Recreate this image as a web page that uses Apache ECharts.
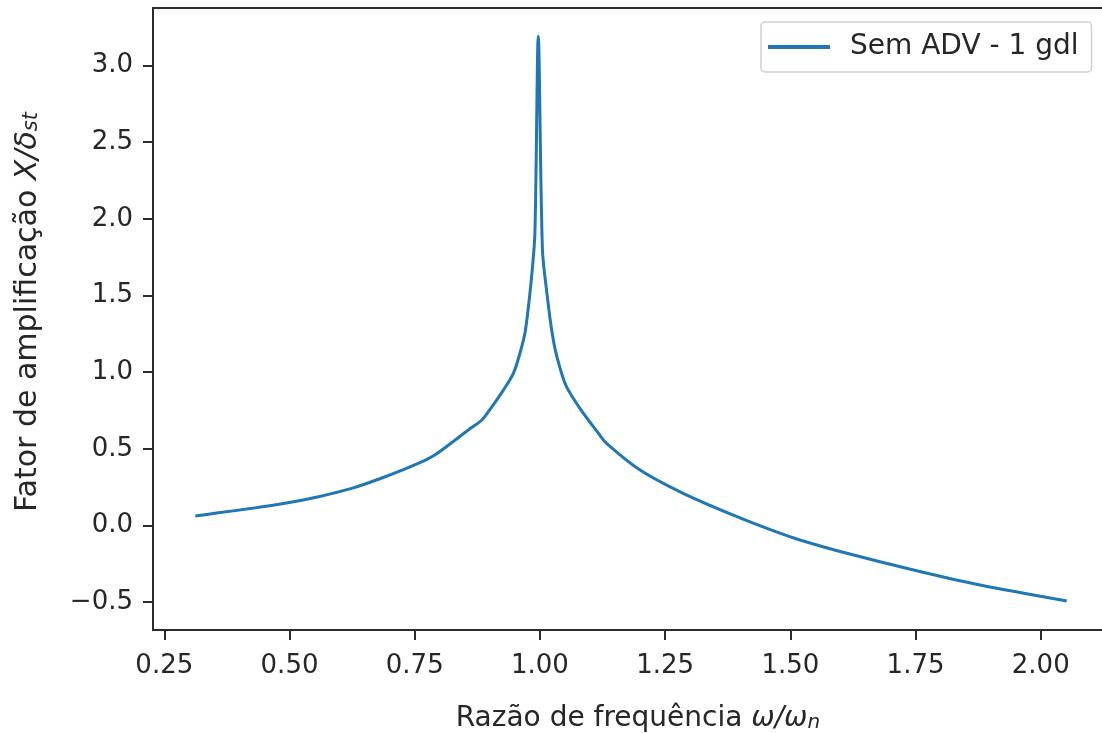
<!DOCTYPE html>
<html>
<head>
<meta charset="utf-8">
<script src="https://cdn.jsdelivr.net/npm/echarts@6/dist/echarts.min.js"></script>
<style>
html,body{margin:0;padding:0;background:#fff;overflow:hidden;}
#c{width:1102px;height:733px;}
</style>
</head>
<body>
<div id="c"></div>
<script>
// Frequency ratio (x) and amplification factor (y)
const freqRatio = [0.312, 0.358, 0.425, 0.491, 0.558, 0.624, 0.691, 0.757, 0.790, 0.857, 0.884, 0.904, 0.927, 0.947, 0.960, 0.970, 0.977, 0.984, 0.990, 0.9967,
  1.005, 1.014, 1.024, 1.034, 1.053, 1.087, 1.117, 1.133, 1.200, 1.286, 1.386, 1.479, 1.519, 1.613, 1.746, 1.879, 2.052];
const ampFactor = [0.062, 0.083, 0.112, 0.145, 0.188, 0.242, 0.318, 0.405, 0.460, 0.623, 0.688, 0.774, 0.883, 0.992, 1.122, 1.253, 1.426, 1.644, 1.907, 3.19,
  1.80, 1.514, 1.264, 1.10, 0.905, 0.731, 0.601, 0.536, 0.362, 0.210, 0.068, -0.050, -0.094, -0.181, -0.290, -0.388, -0.492];
const xTicks = [0.25, 0.50, 0.75, 1.00, 1.25, 1.50, 1.75, 2.00];
const yTicks = [-0.5, 0.0, 0.5, 1.0, 1.5, 2.0, 2.5, 3.0];
const seriesName = 'Sem ADV - 1 gdl';

const FONT = 'DejaVu Sans';
const FS = 26;
const TXT = '#262626';
const SPINE = '#2b2b2b';
const XMIN = 0.2274, XMAX = 2.1443;

const chart = echarts.init(document.getElementById('c'), null, {renderer: 'canvas'});
const data = freqRatio.map((x, i) => [x, ampFactor[i]]);
const fmtMinus = v => (v < 0 ? '\u2212' : '') + Math.abs(v).toFixed(1);

const makeRich = (fs, sfs) => ({
  a: {fontFamily: FONT, fontSize: fs, color: TXT},
  i: {fontFamily: FONT, fontSize: fs, fontStyle: 'italic', color: TXT},
  s: {fontFamily: FONT, fontSize: sfs, fontStyle: 'italic', color: TXT, padding: [0, 0, -7, 0]}
});

chart.setOption({
  animation: false,
  backgroundColor: '#fff',
  grid: {left: 153, top: 8, width: 960, height: 622, show: false, outerBoundsMode: 'none'},
  legend: {
    left: 761, top: 22,
    data: [seriesName],
    icon: 'rect', itemWidth: 62, itemHeight: 4,
    padding: [11, 13, 11, 7],
    backgroundColor: 'rgba(255,255,255,0.85)',
    borderColor: '#d0d0d0', borderWidth: 1.5, borderRadius: 4,
    textStyle: {fontFamily: FONT, fontSize: 28, color: TXT, padding: [0, 0, 0, 15]}
  },
  graphic: [{
    type: 'rect', z: 100, silent: true,
    shape: {x: 1097, y: 10, width: 6, height: 618},
    style: {fill: '#fff'}
  }],
  xAxis: [{
    type: 'value', min: XMIN, max: XMAX,
    name: '{a|Razão de frequência }{i|ω/ω}{s|n}',
    nameLocation: 'middle', nameGap: 75,
    nameTextStyle: {rich: makeRich(28, 20), padding: [0, 0, 0, 10]},
    splitLine: {show: false},
    axisLine: {show: true, onZero: false, lineStyle: {color: SPINE, width: 2}},
    axisTick: {show: true, length: 10, lineStyle: {color: SPINE, width: 2}, customValues: xTicks},
    axisLabel: {
      customValues: xTicks, margin: 23,
      fontFamily: FONT, fontSize: FS, color: TXT,
      formatter: v => v.toFixed(2)
    }
  }, {
    type: 'value', position: 'top', min: XMIN, max: XMAX,
    splitLine: {show: false},
    axisLine: {show: true, onZero: false, lineStyle: {color: SPINE, width: 2}},
    axisTick: {show: false},
    axisLabel: {show: false}
  }],
  yAxis: {
    type: 'value', min: -0.681, max: 3.374,
    name: '{a|Fator de amplificação }{i|X/δ}{s|st}',
    nameLocation: 'middle', nameGap: 110, nameRotate: 90,
    nameTextStyle: {rich: makeRich(30, 21), padding: [0, 0, 0, 14]},
    splitLine: {show: false},
    axisLine: {show: true, onZero: false, lineStyle: {color: SPINE, width: 2}},
    axisTick: {show: true, length: 10, lineStyle: {color: SPINE, width: 2}, customValues: yTicks},
    axisLabel: {
      customValues: yTicks, margin: 20,
      fontFamily: FONT, fontSize: FS, color: TXT,
      formatter: fmtMinus
    }
  },
  series: [{
    name: seriesName,
    type: 'line',
    xAxisIndex: 0,
    data: data,
    showSymbol: false,
    lineStyle: {color: '#1f77b4', width: 3},
    itemStyle: {color: '#1f77b4'},
    smooth: 0.3
  }]
});
</script>
</body>
</html>
